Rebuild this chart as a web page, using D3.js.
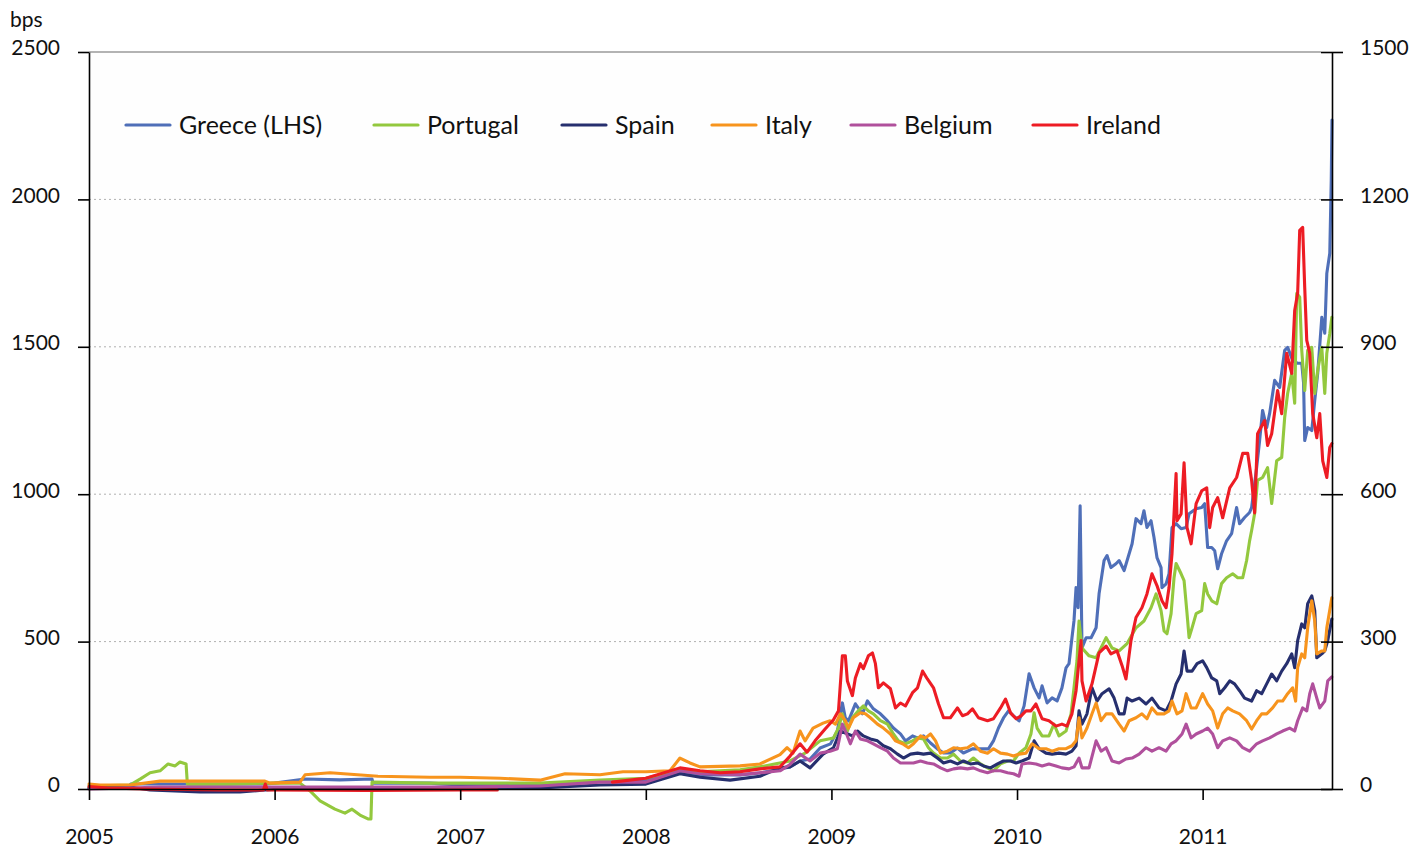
<!DOCTYPE html>
<html><head><meta charset="utf-8">
<script src="https://cdn.jsdelivr.net/npm/d3@7"></script>
<style>
body{margin:0;background:#fff;}
text{font-family:Lato,"Open Sans",sans-serif;fill:#111;}
</style>
</head><body>
<svg id="chart" width="1426" height="850"></svg>
<script>
// ---------- data ----------
const years = [2005, 2006, 2007, 2008, 2009, 2010, 2011];
const leftTicks = [0, 500, 1000, 1500, 2000, 2500];
const rightTicks = [0, 300, 600, 900, 1200, 1500];
const seriesNames = ["Greece (LHS)", "Portugal", "Spain", "Italy", "Belgium", "Ireland"];
const seriesColors = ["#4f6fb8", "#93c83e", "#262f6e", "#f7941d", "#b0509c", "#ed1c24"];

// [decimal year, spread in bps]
const greece = [[2005.000,3],[2005.215,7],[2005.225,17],[2005.383,17],[2005.948,17],[2006.000,20],[2006.164,34],[2006.352,31],[2006.525,34],[2006.530,20],[2006.837,20],[2007.000,14],[2007.430,17],[2007.753,27],[2008.000,31],[2008.184,58],[2008.292,48],[2008.508,48],[2008.615,54],[2008.777,75],[2008.831,95],[2008.885,102],[2008.939,139],[2008.995,153],[2009.032,197],[2009.059,292],[2009.075,241],[2009.092,231],[2009.129,289],[2009.167,255],[2009.194,299],[2009.226,272],[2009.264,255],[2009.302,231],[2009.334,207],[2009.372,187],[2009.399,163],[2009.437,180],[2009.464,173],[2009.496,180],[2009.534,156],[2009.571,136],[2009.604,122],[2009.641,122],[2009.679,139],[2009.711,122],[2009.760,136],[2009.803,136],[2009.846,136],[2009.873,163],[2009.900,207],[2009.927,241],[2009.954,265],[2009.981,248],[2010.011,231],[2010.038,282],[2010.065,391],[2010.092,343],[2010.119,309],[2010.135,350],[2010.162,292],[2010.189,309],[2010.216,299],[2010.242,343],[2010.264,411],[2010.280,425],[2010.296,513],[2010.307,571],[2010.318,683],[2010.329,615],[2010.340,961],[2010.350,479],[2010.372,513],[2010.399,513],[2010.426,547],[2010.442,662],[2010.469,775],[2010.485,792],[2010.506,751],[2010.533,764],[2010.550,775],[2010.577,741],[2010.604,798],[2010.620,832],[2010.641,917],[2010.668,900],[2010.684,944],[2010.700,887],[2010.722,910],[2010.738,853],[2010.754,785],[2010.776,751],[2010.781,683],[2010.803,696],[2010.819,730],[2010.835,887],[2010.857,900],[2010.884,883],[2010.911,887],[2010.927,934],[2010.965,951],[2010.995,955],[2011.011,968],[2011.027,819],[2011.049,819],[2011.065,808],[2011.081,747],[2011.102,798],[2011.129,842],[2011.156,866],[2011.183,955],[2011.199,900],[2011.226,921],[2011.253,938],[2011.264,955],[2011.291,1090],[2011.307,1182],[2011.323,1284],[2011.345,1226],[2011.361,1274],[2011.388,1386],[2011.415,1362],[2011.442,1488],[2011.458,1498],[2011.485,1454],[2011.512,1444],[2011.534,1444],[2011.544,1376],[2011.550,1182],[2011.566,1226],[2011.588,1216],[2011.604,1318],[2011.620,1410],[2011.642,1600],[2011.658,1546],[2011.669,1749],[2011.685,1817],[2011.693,2065],[2011.697,2269]];

const portugal = [[2005.000,6],[2005.221,8],[2005.275,20],[2005.329,33],[2005.383,37],[2005.426,51],[2005.464,47],[2005.490,55],[2005.523,51],[2005.530,10],[2005.760,10],[2006.000,12],[2006.137,12],[2006.191,-4],[2006.245,-24],[2006.325,-41],[2006.379,-49],[2006.417,-41],[2006.460,-53],[2006.503,-61],[2006.519,-61],[2006.525,14],[2006.837,12],[2007.000,12],[2007.430,12],[2007.753,18],[2008.000,22],[2008.184,39],[2008.292,35],[2008.508,39],[2008.615,45],[2008.777,57],[2008.858,73],[2008.939,98],[2009.011,104],[2009.038,124],[2009.059,153],[2009.086,118],[2009.113,145],[2009.145,159],[2009.172,169],[2009.199,159],[2009.226,153],[2009.264,139],[2009.302,132],[2009.334,112],[2009.361,98],[2009.399,92],[2009.437,98],[2009.464,104],[2009.496,102],[2009.523,84],[2009.550,73],[2009.588,63],[2009.625,63],[2009.658,71],[2009.695,57],[2009.733,53],[2009.765,63],[2009.803,51],[2009.841,43],[2009.873,37],[2009.911,51],[2009.949,57],[2009.981,57],[2010.011,73],[2010.048,84],[2010.075,112],[2010.092,155],[2010.108,124],[2010.135,108],[2010.172,108],[2010.199,132],[2010.226,108],[2010.264,118],[2010.291,153],[2010.307,206],[2010.323,261],[2010.334,342],[2010.350,287],[2010.388,271],[2010.426,267],[2010.480,308],[2010.512,287],[2010.550,281],[2010.593,296],[2010.641,328],[2010.684,342],[2010.722,369],[2010.749,397],[2010.776,363],[2010.792,322],[2010.808,316],[2010.830,357],[2010.846,430],[2010.857,459],[2010.884,438],[2010.900,424],[2010.916,357],[2010.927,308],[2010.943,328],[2010.965,357],[2010.995,363],[2011.011,418],[2011.027,397],[2011.049,383],[2011.076,377],[2011.102,418],[2011.129,430],[2011.162,438],[2011.189,430],[2011.216,430],[2011.237,465],[2011.253,505],[2011.264,526],[2011.280,560],[2011.296,628],[2011.323,634],[2011.350,654],[2011.372,581],[2011.399,668],[2011.426,675],[2011.442,756],[2011.458,805],[2011.480,846],[2011.496,785],[2011.507,1009],[2011.523,1001],[2011.534,893],[2011.550,811],[2011.566,893],[2011.588,899],[2011.604,805],[2011.620,852],[2011.642,899],[2011.658,805],[2011.669,887],[2011.685,927],[2011.696,960]];

const spain = [[2005.000,2],[2005.221,4],[2005.329,-2],[2005.598,-6],[2005.814,-6],[2005.948,-2],[2006.137,2],[2006.676,2],[2007.000,4],[2007.430,2],[2007.753,8],[2008.000,10],[2008.184,31],[2008.292,24],[2008.454,18],[2008.615,26],[2008.723,43],[2008.777,45],[2008.831,57],[2008.885,43],[2008.955,71],[2009.011,84],[2009.048,118],[2009.075,114],[2009.113,108],[2009.140,118],[2009.172,108],[2009.210,102],[2009.248,98],[2009.280,88],[2009.318,82],[2009.356,71],[2009.388,63],[2009.426,71],[2009.464,73],[2009.496,71],[2009.534,73],[2009.571,63],[2009.604,53],[2009.641,57],[2009.679,51],[2009.711,57],[2009.749,51],[2009.787,53],[2009.819,47],[2009.857,43],[2009.895,51],[2009.927,57],[2009.965,57],[2009.995,53],[2010.027,57],[2010.065,63],[2010.092,98],[2010.119,82],[2010.156,73],[2010.189,71],[2010.226,73],[2010.264,71],[2010.296,77],[2010.318,88],[2010.334,159],[2010.350,132],[2010.377,153],[2010.404,206],[2010.431,179],[2010.458,194],[2010.496,204],[2010.523,185],[2010.550,153],[2010.577,153],[2010.593,185],[2010.620,179],[2010.658,185],[2010.695,173],[2010.727,185],[2010.765,165],[2010.803,159],[2010.830,179],[2010.857,214],[2010.884,234],[2010.900,281],[2010.916,240],[2010.943,240],[2010.970,255],[2011.000,261],[2011.022,247],[2011.049,226],[2011.076,220],[2011.092,194],[2011.119,206],[2011.146,220],[2011.172,214],[2011.199,200],[2011.226,185],[2011.264,179],[2011.291,200],[2011.318,194],[2011.345,214],[2011.372,234],[2011.399,220],[2011.426,240],[2011.453,255],[2011.480,275],[2011.496,247],[2011.512,302],[2011.534,336],[2011.550,328],[2011.566,377],[2011.588,393],[2011.604,363],[2011.615,267],[2011.642,275],[2011.658,281],[2011.674,302],[2011.696,346]];

const italy = [[2005.000,10],[2005.059,8],[2005.221,8],[2005.383,16],[2005.948,16],[2005.975,12],[2006.137,14],[2006.164,29],[2006.299,33],[2006.557,26],[2006.837,24],[2007.000,24],[2007.215,22],[2007.430,18],[2007.565,31],[2007.753,29],[2007.877,35],[2008.000,35],[2008.130,37],[2008.184,63],[2008.238,53],[2008.292,45],[2008.508,47],[2008.615,51],[2008.723,70],[2008.761,84],[2008.793,73],[2008.831,118],[2008.858,98],[2008.901,124],[2008.955,134],[2008.993,139],[2009.022,132],[2009.048,153],[2009.075,139],[2009.092,124],[2009.118,145],[2009.156,155],[2009.183,153],[2009.210,145],[2009.248,132],[2009.280,124],[2009.318,112],[2009.345,98],[2009.383,92],[2009.415,84],[2009.442,92],[2009.480,108],[2009.507,104],[2009.534,112],[2009.561,98],[2009.588,73],[2009.625,77],[2009.658,84],[2009.695,82],[2009.733,84],[2009.765,92],[2009.803,77],[2009.841,73],[2009.873,82],[2009.911,73],[2009.949,71],[2009.981,67],[2010.011,71],[2010.048,73],[2010.081,92],[2010.119,82],[2010.156,82],[2010.189,77],[2010.226,82],[2010.264,82],[2010.296,88],[2010.318,98],[2010.334,145],[2010.350,104],[2010.377,124],[2010.404,153],[2010.426,175],[2010.453,139],[2010.480,153],[2010.512,153],[2010.550,132],[2010.577,118],[2010.604,139],[2010.641,145],[2010.673,153],[2010.700,143],[2010.727,165],[2010.754,153],[2010.792,153],[2010.819,159],[2010.835,179],[2010.862,153],[2010.889,159],[2010.911,194],[2010.938,165],[2010.965,165],[2011.000,194],[2011.027,173],[2011.054,159],[2011.081,124],[2011.108,153],[2011.135,165],[2011.162,159],[2011.199,153],[2011.237,139],[2011.264,122],[2011.291,139],[2011.318,153],[2011.345,153],[2011.377,165],[2011.404,179],[2011.431,179],[2011.458,194],[2011.485,206],[2011.501,179],[2011.512,247],[2011.534,275],[2011.550,267],[2011.566,328],[2011.588,383],[2011.604,342],[2011.615,275],[2011.642,281],[2011.658,281],[2011.669,328],[2011.696,389]];

const belgium = [[2005.000,0],[2005.221,2],[2005.383,4],[2006.000,4],[2007.000,4],[2007.430,6],[2007.753,14],[2008.000,14],[2008.184,37],[2008.292,31],[2008.508,29],[2008.723,37],[2008.777,50],[2008.831,71],[2008.885,57],[2008.939,73],[2008.993,77],[2009.032,82],[2009.059,132],[2009.075,118],[2009.102,92],[2009.129,118],[2009.156,102],[2009.194,98],[2009.226,92],[2009.264,84],[2009.302,77],[2009.334,63],[2009.372,53],[2009.410,53],[2009.442,53],[2009.480,57],[2009.517,53],[2009.550,51],[2009.588,43],[2009.625,37],[2009.658,41],[2009.695,43],[2009.733,41],[2009.765,43],[2009.803,37],[2009.841,33],[2009.873,37],[2009.911,37],[2009.949,33],[2009.981,31],[2010.011,26],[2010.027,51],[2010.065,53],[2010.102,51],[2010.135,47],[2010.172,51],[2010.210,47],[2010.242,43],[2010.280,41],[2010.307,45],[2010.334,63],[2010.350,43],[2010.388,43],[2010.426,98],[2010.453,77],[2010.480,84],[2010.512,57],[2010.550,53],[2010.587,61],[2010.620,63],[2010.658,71],[2010.695,84],[2010.727,77],[2010.765,84],[2010.803,77],[2010.830,92],[2010.857,98],[2010.889,112],[2010.911,132],[2010.938,104],[2010.965,112],[2011.000,118],[2011.027,124],[2011.054,112],[2011.081,84],[2011.108,98],[2011.146,104],[2011.183,98],[2011.216,84],[2011.253,77],[2011.291,92],[2011.323,98],[2011.361,104],[2011.399,112],[2011.431,118],[2011.469,124],[2011.496,118],[2011.512,139],[2011.539,165],[2011.561,159],[2011.577,194],[2011.593,214],[2011.615,185],[2011.631,165],[2011.658,179],[2011.674,220],[2011.696,228]];

const ireland = [[2005.000,5],[2005.100,2],[2005.300,0],[2005.700,-2],[2005.940,-2],[2005.950,10],[2005.960,-2],[2006.500,-3],[2007.000,-2],[2007.200,-2],[2007.500,null],[2007.820,14],[2008.000,22],[2008.184,43],[2008.292,37],[2008.400,33],[2008.508,35],[2008.615,41],[2008.723,45],[2008.777,67],[2008.831,92],[2008.869,75],[2008.912,98],[2008.966,122],[2009.011,141],[2009.038,159],[2009.059,271],[2009.075,271],[2009.086,220],[2009.113,190],[2009.129,226],[2009.156,255],[2009.172,245],[2009.199,271],[2009.221,277],[2009.237,255],[2009.253,206],[2009.280,216],[2009.318,204],[2009.345,165],[2009.372,175],[2009.399,169],[2009.437,196],[2009.464,206],[2009.491,240],[2009.517,224],[2009.550,206],[2009.577,173],[2009.604,145],[2009.641,145],[2009.679,165],[2009.706,149],[2009.733,153],[2009.760,163],[2009.792,145],[2009.841,139],[2009.873,143],[2009.911,165],[2009.938,183],[2009.965,155],[2009.995,143],[2010.022,149],[2010.048,159],[2010.075,159],[2010.102,173],[2010.135,143],[2010.172,139],[2010.210,128],[2010.242,132],[2010.269,128],[2010.296,153],[2010.318,200],[2010.334,261],[2010.345,302],[2010.350,220],[2010.372,179],[2010.404,214],[2010.442,277],[2010.480,291],[2010.506,275],[2010.539,281],[2010.566,251],[2010.587,224],[2010.614,302],[2010.641,349],[2010.673,369],[2010.700,397],[2010.727,438],[2010.754,414],[2010.781,383],[2010.803,369],[2010.819,410],[2010.835,479],[2010.857,642],[2010.862,546],[2010.884,560],[2010.900,664],[2010.916,532],[2010.938,499],[2010.965,581],[2010.995,607],[2011.022,613],[2011.038,532],[2011.054,573],[2011.081,593],[2011.108,552],[2011.146,613],[2011.183,634],[2011.216,683],[2011.243,683],[2011.264,628],[2011.280,562],[2011.296,723],[2011.334,750],[2011.350,699],[2011.372,723],[2011.404,811],[2011.426,764],[2011.453,887],[2011.480,846],[2011.496,974],[2011.512,1009],[2011.523,1137],[2011.539,1143],[2011.550,1021],[2011.561,913],[2011.577,887],[2011.593,764],[2011.615,715],[2011.631,764],[2011.647,668],[2011.669,634],[2011.685,695],[2011.696,703]];

const seriesData = [greece, portugal, spain, italy, belgium, ireland];
const seriesAxis = ["left", "right", "right", "right", "right", "right"];

// ---------- layout ----------
const svg = d3.select("#chart");
const X0 = 89, X1 = 1332, Y0 = 789, Y1 = 52;
const x = d3.scaleLinear().domain([2005, 2011.697]).range([X0, X1]);
const yL = d3.scaleLinear().domain([0, 2500]).range([Y0, Y1]);
const yR = d3.scaleLinear().domain([0, 1500]).range([Y0, Y1]);

svg.append("rect").attr("x", X0).attr("y", Y1).attr("width", X1 - X0).attr("height", Y0 - Y1).attr("fill", "#fefefe");

// gridlines
svg.append("g").selectAll("line").data(leftTicks.filter(d => d > 0)).join("line")
  .attr("x1", X0).attr("x2", X1 - 11)
  .attr("y1", d => yL(d)).attr("y2", d => yL(d))
  .attr("stroke", d => d === 2500 ? "#9a9a9a" : "#b0b0b0")
  .attr("stroke-width", d => d === 2500 ? 1.4 : 1)
  .attr("stroke-dasharray", d => d === 2500 ? null : "2,3");

// lines
const yScaleFor = a => a === "left" ? yL : yR;
seriesData.forEach((data, i) => {
  const ys = yScaleFor(seriesAxis[i]);
  const line = d3.line().defined(d => d[1] !== null).x(d => x(d[0])).y(d => ys(d[1]));
  svg.append("path").datum(data).attr("d", line)
    .attr("fill", "none").attr("stroke", seriesColors[i])
    .attr("stroke-width", 3.1).attr("stroke-linejoin", "round").attr("stroke-linecap", "round");
});

// axes
const fs = "21px";
const fmt = d3.format("d");
const gL = svg.append("g").attr("transform", `translate(${X0},0)`)
  .call(d3.axisLeft(yL).tickValues(leftTicks).tickFormat(fmt).tickSizeInner(11).tickSizeOuter(0).tickPadding(18));
const gR = svg.append("g").attr("transform", `translate(${X1},0)`)
  .call(d3.axisRight(yR).tickValues(rightTicks).tickFormat(fmt).tickSizeInner(11).tickSizeOuter(0).tickPadding(17));
gR.selectAll(".tick line").attr("x1", -11).attr("x2", 11);
const gB = svg.append("g").attr("transform", `translate(0,${Y0})`)
  .call(d3.axisBottom(x).tickValues(years).tickFormat(fmt).tickSizeInner(11).tickSizeOuter(0).tickPadding(29));

[gL, gR, gB].forEach(g => {
  g.selectAll("path.domain").attr("stroke", "#000").attr("stroke-width", 1.6);
  g.selectAll(".tick line").attr("stroke", "#000").attr("stroke-width", 1.6);
  g.selectAll("text").attr("font-size", fs).attr("font-family", "Lato, 'Open Sans', sans-serif").attr("fill", "#111");
});
gL.selectAll("text").attr("dy", "0.14em");
gR.selectAll("text").attr("dy", "0.14em");

svg.append("text").attr("x", 10).attr("y", 27).attr("font-size", "21px").text("bps");

// legend (item left edges, layout only)
const legendX = [126, 374, 562, 712, 851, 1033];
const leg = svg.append("g").attr("transform", "translate(0,125)");
seriesNames.forEach((n, i) => {
  const g = leg.append("g").attr("transform", `translate(${legendX[i]},0)`);
  g.append("line").attr("x1", 0).attr("x2", 44).attr("y1", 0).attr("y2", 0)
    .attr("stroke", seriesColors[i]).attr("stroke-width", 3.2).attr("stroke-linecap", "round");
  g.append("text").attr("x", 53).attr("y", 8.5).attr("font-size", "25px").text(n);
});
</script>
</body></html>
